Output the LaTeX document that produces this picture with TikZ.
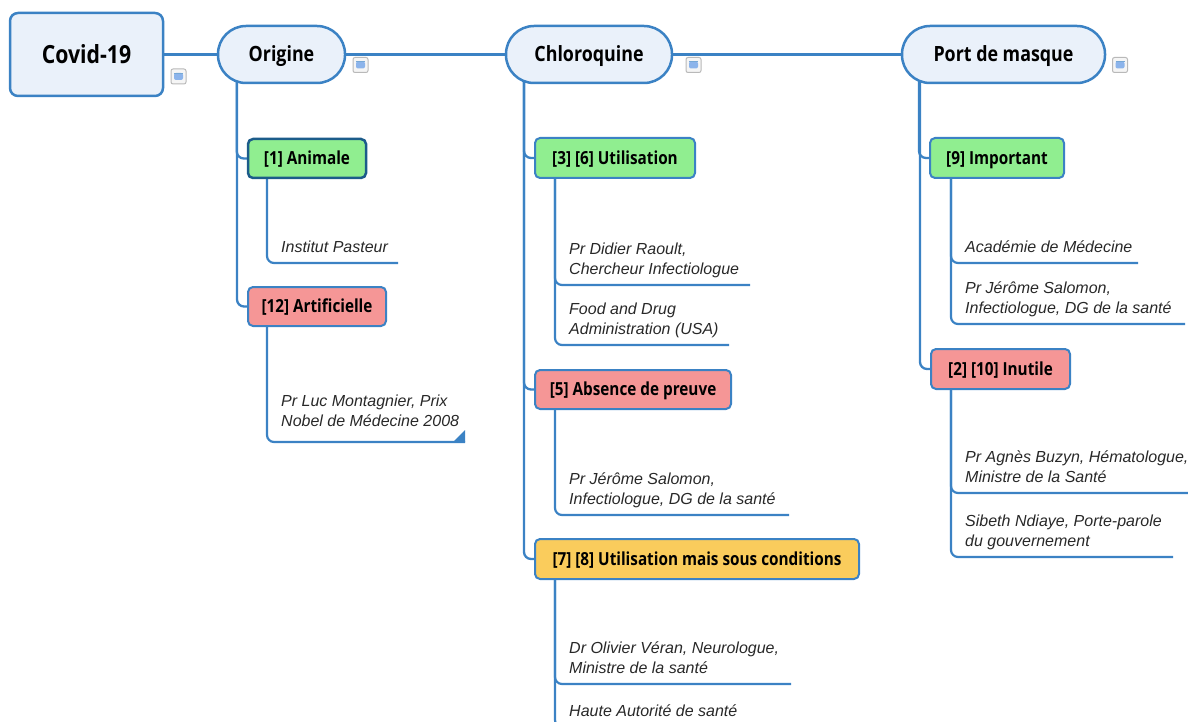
\documentclass[tikz,border=0pt]{standalone}
\usepackage{fontspec}
\setmainfont{Liberation Sans}
\newfontfamily\lblfont[FakeStretch=0.85]{Open Sans}
\usetikzlibrary{backgrounds}
\definecolor{lineblue}{RGB}{59,130,196}
\definecolor{pillfill}{RGB}{234,241,250}
\definecolor{okgreen}{RGB}{144,238,144}
\definecolor{nored}{RGB}{245,150,150}
\definecolor{condyel}{RGB}{250,204,92}
\definecolor{selblue}{RGB}{28,92,138}
\definecolor{iconblue}{RGB}{140,180,235}
\definecolor{leafgray}{RGB}{40,40,40}
\begin{document}
\begin{tikzpicture}[x=1pt,y=-1pt,
  conn/.style={draw=lineblue, line width=2.3pt, rounded corners=7pt},
  leafline/.style={draw=lineblue, line width=2.2pt, rounded corners=7pt},
  rootbox/.style={draw=lineblue, line width=2.5pt, fill=pillfill, rounded corners=8pt,
    minimum width=153pt, minimum height=83pt, inner sep=0pt, text height=17.8pt, text depth=0pt,
    font=\lblfont\bfseries\fontsize{25}{30}\selectfont},
  pill/.style={draw=lineblue, line width=2.5pt, fill=pillfill, rounded corners=28pt,
    minimum height=57pt, inner sep=0pt, text height=15pt, text depth=0pt,
    font=\lblfont\bfseries\fontsize{21}{26}\selectfont},
  catbox/.style={draw=lineblue, line width=2pt, rounded corners=5pt,
    minimum height=39pt, inner sep=0pt, text height=12.9pt, text depth=0pt,
    font=\lblfont\bfseries\fontsize{18}{22}\selectfont},
  leaf/.style={anchor=south west, align=left, inner xsep=0pt, inner ysep=4pt,
    text=leafgray, font=\itshape\fontsize{16}{20}\selectfont},
  noteicon/.style={draw=gray!55, fill=gray!8, rounded corners=2pt, line width=1pt,
    minimum size=15pt, inner sep=0pt,
    path picture={\fill[iconblue] ([shift={(-4.5pt,-3.5pt)}]path picture bounding box.center) rectangle ++(9pt,7pt);
      \draw[lineblue!70, line width=0.8pt] ([shift={(-4.5pt,3.5pt)}]path picture bounding box.center) -- ++(9pt,0pt);}}
]
\path[use as bounding box, clip] (0,0) rectangle (1188,722);

% main nodes
\node[rootbox] (covid) at (86.5,54.5) {Covid-19};
\node[pill, minimum width=127pt] (org) at (281.5,54.5) {Origine};
\node[pill, minimum width=166pt] (chl) at (589,54.5) {Chloroquine};
\node[pill, minimum width=203pt] (port) at (1003.5,54.5) {Port de masque};

% note icons
\node[noteicon] (ic0) at (178.5,76.5) {};
\node[noteicon] (ic1) at (360.5,65) {};
\node[noteicon] (ic2) at (693.5,65) {};
\node[noteicon] (ic3) at (1120,65) {};

% category boxes
\node[catbox, fill=okgreen, draw=selblue, line width=2.5pt, minimum width=118pt] (anim) at (307,158.5) {[1] Animale};
\node[catbox, fill=nored, minimum width=138pt] (arti) at (317,306.5) {[12] Artificielle};
\node[catbox, fill=okgreen, minimum width=160pt, minimum height=40pt] (util) at (615,158) {[3] [6] Utilisation};
\node[catbox, fill=nored, minimum width=196pt] (abs) at (633,389.5) {[5] Absence de preuve};
\node[catbox, fill=condyel, minimum width=324pt, minimum height=40pt] (cond) at (697,559) {[7] [8] Utilisation mais sous conditions};
\node[catbox, fill=okgreen, minimum width=134pt, minimum height=40pt] (imp) at (997,158) {[9] Important};
\node[catbox, fill=nored, minimum width=139pt, minimum height=40pt] (inu) at (1000.5,369) {[2] [10] Inutile};

% leaves
\node[leaf] (l1) at (281,263) {Institut Pasteur\strut};
\node[leaf] (l2) at (281,437) {Pr Luc Montagnier, Prix\\Nobel de Médecine 2008\strut};
\node[leaf] (l3) at (569,285) {Pr Didier Raoult,\\Chercheur Infectiologue\strut};
\node[leaf] (l4) at (569,345) {Food and Drug\\Administration (USA)\strut};
\node[leaf] (l5) at (569,515) {Pr Jérôme Salomon,\\Infectiologue, DG de la santé\strut};
\node[leaf] (l6) at (569,684) {Dr Olivier Véran, Neurologue,\\Ministre de la santé\strut};
\node[leaf] (l7) at (569,727) {Haute Autorité de santé\strut};
\node[leaf] (l8) at (965,263) {Académie de Médecine\strut};
\node[leaf] (l9) at (965,324) {Pr Jérôme Salomon,\\Infectiologue, DG de la santé\strut};
\node[leaf] (l10) at (965,493) {Pr Agnès Buzyn, Hématologue,\\Ministre de la Santé\strut};
\node[leaf] (l11) at (965,557) {Sibeth Ndiaye, Porte-parole\\du gouvernement\strut};

% underline ends
\coordinate (e1) at (398,263);
\coordinate (e2) at (465,442);
\coordinate (e3) at (750,285);
\coordinate (e4) at (729,345);
\coordinate (e5) at (789,515);
\coordinate (e6) at (791,684);
\coordinate (e7) at (775,727);
\coordinate (e8) at (1138,263);
\coordinate (e9) at (1185,324);
\coordinate (e10) at (1200,493);
\coordinate (e11) at (1173,557);

\foreach \i in {1,...,11}{\coordinate (v\i) at ([xshift=-14pt]l\i.south west);}

\fill[lineblue] (e2) -- ++(0,-12) -- ++(-12,12) -- cycle;

\begin{scope}[on background layer]
  % main line
  \draw[conn] (covid.east) -- (org.west);
  \draw[conn] (org.east) -- (chl.west);
  \draw[conn] (chl.east) -- (port.west);
  % trunks to categories
  \foreach \p/\c in {org/anim, org/arti, chl/util, chl/abs, chl/cond, port/imp, port/inu}{
    \draw[conn] (\c.west) -- ++(-10,0) coordinate (t) -- (t |- \p.center);
  }
  % leaves
  \foreach \p/\i in {anim/1, arti/2, util/3, util/4, abs/5, cond/6, cond/7, imp/8, imp/9, inu/10, inu/11}{
    \draw[leafline] (e\i) -- (e\i -| v\i) -- (v\i |- \p.center);
  }
\end{scope}
\end{tikzpicture}
\end{document}
